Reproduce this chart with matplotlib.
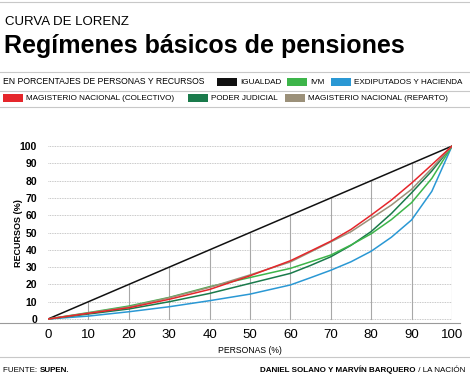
import matplotlib
matplotlib.use("Agg")
import matplotlib.pyplot as plt
from matplotlib.patches import Rectangle
from matplotlib.lines import Line2D

plt.rcParams['font.family'] = ['Liberation Sans', 'DejaVu Sans']

# data (percent of persons vs percent of resources)
personas = [0, 10, 20, 30, 40, 50, 60, 65, 70, 75, 80, 85, 90, 95, 100]
igualdad = [0, 10, 20, 30, 40, 50, 60, 65, 70, 75, 80, 85, 90, 95, 100]
ivm = [0, 3.7, 7.5, 12.5, 18.7, 24.0, 29.3, 33.1, 37.0, 42.8, 49.3, 57.5, 67.3, 81.3, 100]
exdiputados = [0, 1.7, 4.2, 7.1, 10.6, 14.4, 19.7, 23.9, 28.2, 33.1, 39.2, 47.3, 57.3, 73.8, 100]
mag_colectivo = [0, 3.3, 6.5, 11.4, 17.1, 25.0, 33.7, 39.3, 45.0, 51.8, 60.1, 68.8, 78.6, 89.2, 100]
poder_judicial = [0, 2.9, 5.8, 10.0, 14.8, 20.6, 26.4, 31.0, 36.0, 42.6, 50.6, 61.0, 73.0, 85.6, 100]
mag_reparto = [0, 3.5, 7.0, 12.3, 18.3, 25.5, 33.0, 38.8, 44.6, 50.5, 58.2, 65.9, 75.0, 87.1, 100]

ticks = [0, 10, 20, 30, 40, 50, 60, 70, 80, 90, 100]

series = [
    ("IGUALDAD", igualdad, "#111111"),
    ("IVM", ivm, "#3db54a"),
    ("EXDIPUTADOS Y HACIENDA", exdiputados, "#2a98d4"),
    ("MAGISTERIO NACIONAL (COLECTIVO)", mag_colectivo, "#e5262b"),
    ("PODER JUDICIAL", poder_judicial, "#1a7a4b"),
    ("MAGISTERIO NACIONAL (REPARTO)", mag_reparto, "#9b9079"),
]

W, H = 470, 375
fig = plt.figure(figsize=(W / 100, H / 100), dpi=100)


def fx(px):
    return px / W


def fy(py):
    return 1 - py / H


# axes: x 0 -> px 48, 100 -> px 452 ; y 0 -> px 319, 100 -> px 146
ax = fig.add_axes([fx(48), fy(323), fx(452) - fx(48), (323 - 144) / H])
ax.set_xlim(0, 100)
ax.set_ylim(-2.3, 101.2)
for s in ax.spines.values():
    s.set_visible(False)
ax.tick_params(length=0)

# horizontal dotted grid
for t in ticks:
    ax.axhline(t, color="#b5b5b5", lw=0.6, ls=(0, (1, 1)), zorder=1)
# vertical grid up to the equality line
for t in ticks[1:]:
    ax.plot([t, t], [0, t], color="#a8a8a8", lw=0.8, zorder=1)

# draw reparto before colectivo so red sits on top
order = [0, 2, 4, 1, 5, 3]
for i in order:
    name, vals, col = series[i]
    ax.plot(personas, vals, color=col, lw=1.1, zorder=3, solid_joinstyle="round")

ax.set_xticks(ticks)
ax.set_xticklabels([str(t) for t in ticks], fontsize=9.5)
ax.set_yticks(ticks)
ax.set_yticklabels([str(t) for t in ticks], fontsize=7.5, fontweight="bold")
ax.tick_params(axis="x", pad=4)
ax.tick_params(axis="y", pad=8)
ax.set_xlabel("PERSONAS (%)", fontsize=6.2, labelpad=4)
ax.set_ylabel("RECURSOS (%)", fontsize=6.5, fontweight="bold")
ax.yaxis.set_label_coords(-0.062, 0.5)

# figure rules
for py, x1 in [(2, 470), (72, 470), (91, 470), (107, 470), (323, 460), (357, 470)]:
    fig.add_artist(Line2D([0, fx(x1)], [fy(py), fy(py)], color="#c8c8c8" if py != 323 else "#9a9a9a",
                          lw=0.8))

# titles
fig.text(fx(5), fy(22), "CURVA DE LORENZ", fontsize=9.5, va="center", ha="left")
fig.text(fx(4), fy(46), "Regímenes básicos de pensiones", fontsize=18,
         fontweight="bold", va="center", ha="left")

# legend
fig.text(fx(3), fy(82), "EN PORCENTAJES DE PERSONAS Y RECURSOS", fontsize=6.2,
         va="center", ha="left")
legend_pos = [(217, 82), (287, 82), (331, 82), (3, 98), (188, 98), (285, 98)]
for (name, vals, col), (px, py) in zip(series, legend_pos):
    fig.add_artist(Rectangle((fx(px), fy(py + 3.5)), fx(20), 7 / H, color=col, lw=0))
    fig.text(fx(px + 23), fy(py), name, fontsize=5.9, va="center", ha="left")

# footer
f1 = fig.text(fx(3), fy(370), "FUENTE: ", fontsize=5.8, va="center", ha="left")
ax.annotate("SUPEN.", xy=(1, 0.5), xycoords=f1, fontsize=5.8, fontweight="bold",
            va="center", ha="left", annotation_clip=False)
f2 = fig.text(fx(465), fy(370), " / LA NACIÓN", fontsize=5.8, va="center", ha="right")
ax.annotate("DANIEL SOLANO Y MARVÍN BARQUERO", xy=(0, 0.5), xycoords=f2, fontsize=5.8,
            fontweight="bold", va="center", ha="right", annotation_clip=False)

fig.savefig("out.png", dpi=100)
